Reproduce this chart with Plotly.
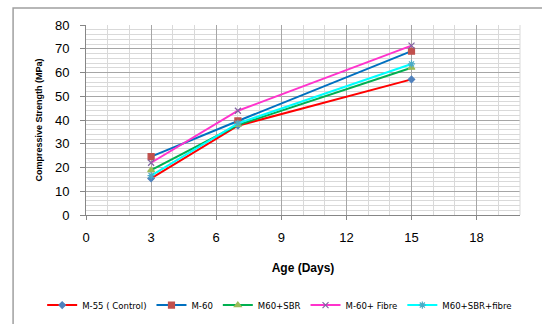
import plotly.graph_objects as go

ages = [3, 7, 15]
m55_control = [15.4, 37.6, 57.1]
m60 = [24.6, 39.6, 69.0]
m60_sbr = [18.9, 37.9, 62.0]
m60_fibre = [22.0, 43.9, 71.3]
m60_sbr_fibre = [16.6, 38.6, 63.6]

series = [
    ("M-55 ( Control)", m55_control, "#FF0000", "diamond", "#4F81BD", 5),
    ("M-60", m60, "#0070C0", "square", "#C0504D", 6),
    ("M60+SBR", m60_sbr, "#00B050", "triangle-up", "#9BBB59", 6),
    ("M-60+ Fibre", m60_fibre, "#FF33CC", "x-thin", "#8064A2", 6),
    ("M60+SBR+fibre", m60_sbr_fibre, "#00FFFF", "asterisk", "#4BACC6", 6),
]

fig = go.Figure()
for name, vals, lc, sym, mc, ms in series:
    fig.add_trace(go.Scatter(
        x=ages, y=vals, name=name, mode="lines+markers",
        line=dict(color=lc, width=2),
        marker=dict(symbol=sym, color=mc, size=ms,
                    line=dict(color=mc, width=1.2)),
    ))

font = "Liberation Sans, Arial, sans-serif"
fig.update_layout(
    width=542, height=324,
    margin=dict(l=86, r=22, t=25, b=109, autoexpand=False),
    paper_bgcolor="white", plot_bgcolor="white",
    font=dict(family=font, color="#000000", size=12),
    showlegend=True,
    legend=dict(orientation="h", xref="paper", yref="paper",
                x=-0.101, xanchor="left", y=-0.474, yanchor="middle",
                font=dict(size=9.5, family="DejaVu Sans Condensed, Liberation Sans Narrow, Liberation Sans, sans-serif"),
                itemwidth=30, tracegroupgap=0,
                bgcolor="rgba(0,0,0,0)"),
    xaxis=dict(
        range=[0, 20], dtick=3, tick0=0,
        showgrid=True, gridcolor="#A6A6A6", gridwidth=1,
        minor=dict(dtick=1, showgrid=True, gridcolor="#D9D9D9", gridwidth=1),
        showline=True, linecolor="#868686", linewidth=1,
        ticks="outside", ticklen=4, tickcolor="#868686",
        ticklabelstandoff=6,
        zeroline=False, mirror=False,
        title=dict(text="<b>Age (Days)</b>", font=dict(size=12), standoff=20),
        tickfont=dict(size=13, color="#000000"),
    ),
    yaxis=dict(
        range=[0, 80], dtick=10, tick0=0,
        showgrid=True, gridcolor="#A6A6A6", gridwidth=1,
        minor=dict(dtick=2, showgrid=True, gridcolor="#D9D9D9", gridwidth=1),
        showline=True, linecolor="#868686", linewidth=1,
        ticks="outside", ticklen=5, tickcolor="#868686",
        ticklabelstandoff=8,
        zeroline=False,
        title=dict(text="<b>Compressive Strength (MPa)</b>", font=dict(size=9), standoff=10),
        tickfont=dict(size=13, color="#000000"),
    ),
    shapes=[
        dict(type="line", xref="paper", yref="paper", x0=1, x1=1, y0=0, y1=1,
             line=dict(color="#D9D9D9", width=1)),
        dict(type="path", xref="paper", yref="paper",
             path="M -0.168,-0.6 L -0.168,1.089 L 1.06,1.089",
             line=dict(color="#A0A0A0", width=1.5)),
    ],
)

fig.write_html("out.html")
